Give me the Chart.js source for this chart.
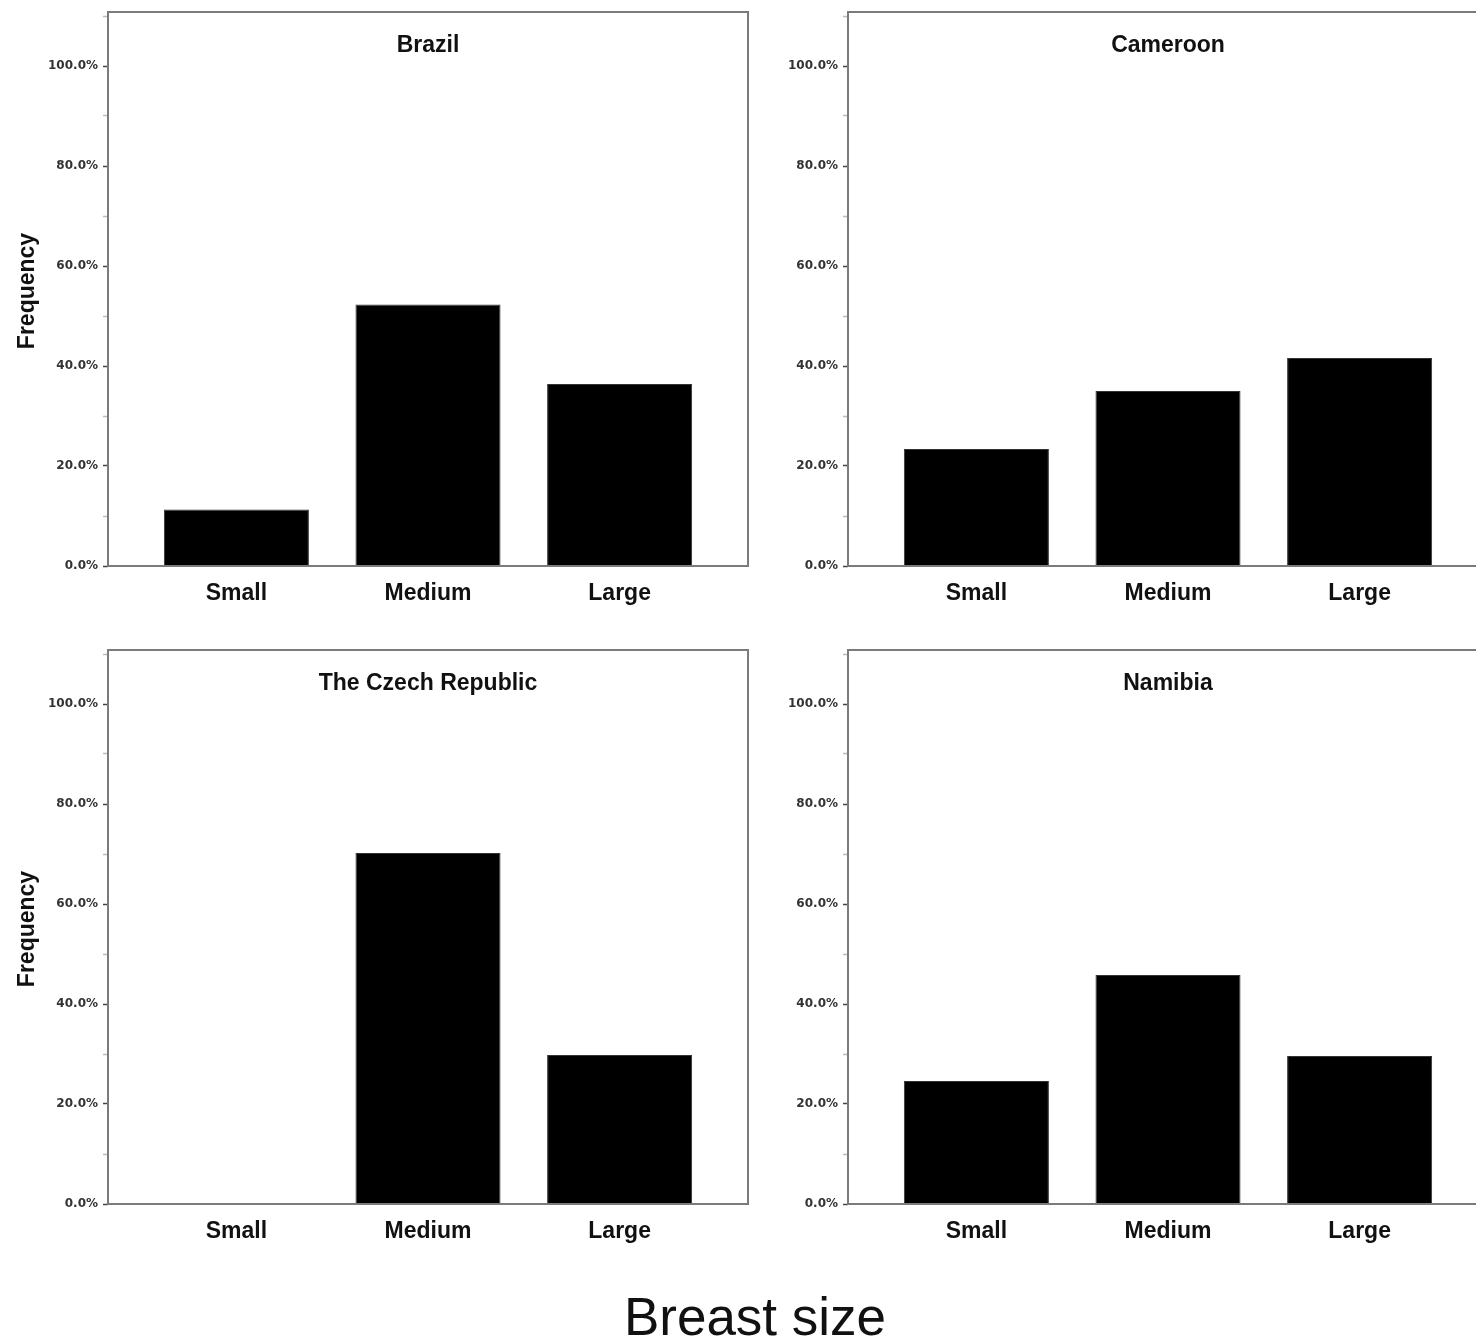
<!DOCTYPE html>
<html>
<head>
<meta charset="utf-8">
<title>Breast size</title>
<script src="https://cdn.jsdelivr.net/npm/chart.js@4.4.0/dist/chart.umd.min.js"></script>
<style>
  html, body { margin: 0; padding: 0; background: #fff; }
  #page { position: relative; width: 1476px; height: 1340px; overflow: hidden; }
  canvas { position: absolute; }
  #xtitle {
    position: absolute; left: 0; width: 1510px; top: 1286px;
    text-align: center; line-height: 60px; color: #111;
    font: 53px "Liberation Sans", Arial, sans-serif;
  }
</style>
</head>
<body>
<div id="page">
  <canvas id="brazil" width="760" height="620" style="left:0;top:0"></canvas>
  <canvas id="cameroon" width="760" height="620" style="left:740px;top:0"></canvas>
  <canvas id="czech" width="760" height="620" style="left:0;top:638px"></canvas>
  <canvas id="namibia" width="760" height="620" style="left:740px;top:638px"></canvas>
  <div id="xtitle">Breast size</div>
</div>
<script>
// breast size categories and share of responses (%) per country
const categories = ['Small', 'Medium', 'Large'];
const brazil = [11.3, 52.3, 36.4];
const cameroon = [23.4, 35.0, 41.6];
const czech = [0, 70.2, 29.8];
const namibia = [24.6, 45.8, 29.6];
const yAxisTitle = 'Frequency';

const labelFont = '"Liberation Sans", Arial, sans-serif';

// box around the plot area and the country name inside it
const framePlugin = {
    id: 'frame',
    afterDraw(chart, args, opts) {
        const { ctx, chartArea: a } = chart;
        ctx.save();
        ctx.strokeStyle = '#7b7b7b';
        ctx.lineWidth = 2;
        ctx.strokeRect(a.left, a.top - 4, a.right - a.left, a.bottom - a.top + 4);
        ctx.fillStyle = '#111';
        ctx.font = 'bold 23px ' + labelFont;
        ctx.textAlign = 'center';
        ctx.textBaseline = 'middle';
        ctx.fillText(opts.text, (a.left + a.right) / 2, a.top + 30);
        ctx.restore();
    }
};

function makeChart(id, title, values, showYTitle) {
    return new Chart(document.getElementById(id), {
        type: 'bar',
        data: {
            datasets: [{
                data: values.map((v, i) => ({ x: i, y: v })),
                backgroundColor: '#000',
                borderColor: '#333',
                borderWidth: 1,
                categoryPercentage: 1,
                barPercentage: 0.757
            }]
        },
        options: {
            responsive: false,
            animation: false,
            layout: { padding: { top: 16, right: 12, left: 0, bottom: 0 } },
            plugins: {
                legend: { display: false },
                tooltip: { enabled: false },
                frame: { text: title }
            },
            scales: {
                x: {
                    type: 'linear',
                    offset: false,
                    min: -0.67,
                    max: 2.67,
                    afterBuildTicks: (scale) => {
                        scale.ticks = categories.map((_, i) => ({ value: i }));
                    },
                    afterFit: (scale) => { scale.height = 54; },
                    grid: { display: false },
                    border: { display: false },
                    ticks: {
                        autoSkip: false,
                        maxRotation: 0,
                        padding: 6,
                        color: '#111',
                        font: { family: labelFont, size: 23, weight: 'bold' },
                        callback: (v) => categories[v]
                    }
                },
                y: {
                    min: 0,
                    max: 110,
                    afterFit: (scale) => { scale.width = 108; },
                    grid: {
                        drawOnChartArea: false,
                        drawTicks: true,
                        tickLength: 5,
                        tickWidth: 1.5,
                        tickColor: (ctx) => (ctx.tick && ctx.tick.value % 20 === 0 ? '#444' : '#bbb')
                    },
                    border: { display: false },
                    title: {
                        display: showYTitle,
                        text: yAxisTitle,
                        color: '#111',
                        padding: { top: 14, bottom: 0 },
                        font: { family: labelFont, size: 23, weight: 'bold' }
                    },
                    ticks: {
                        stepSize: 10,
                        autoSkip: false,
                        padding: 5,
                        color: '#333',
                        font: { family: '"DejaVu Sans", sans-serif', size: 12, weight: 'bold' },
                        callback: (v) => (v % 20 === 0 && v <= 100 ? v.toFixed(1) + '%' : '')
                    }
                }
            }
        },
        plugins: [framePlugin]
    });
}

makeChart('brazil', 'Brazil', brazil, true);
makeChart('cameroon', 'Cameroon', cameroon, false);
makeChart('czech', 'The Czech Republic', czech, true);
makeChart('namibia', 'Namibia', namibia, false);
</script>
</body>
</html>
